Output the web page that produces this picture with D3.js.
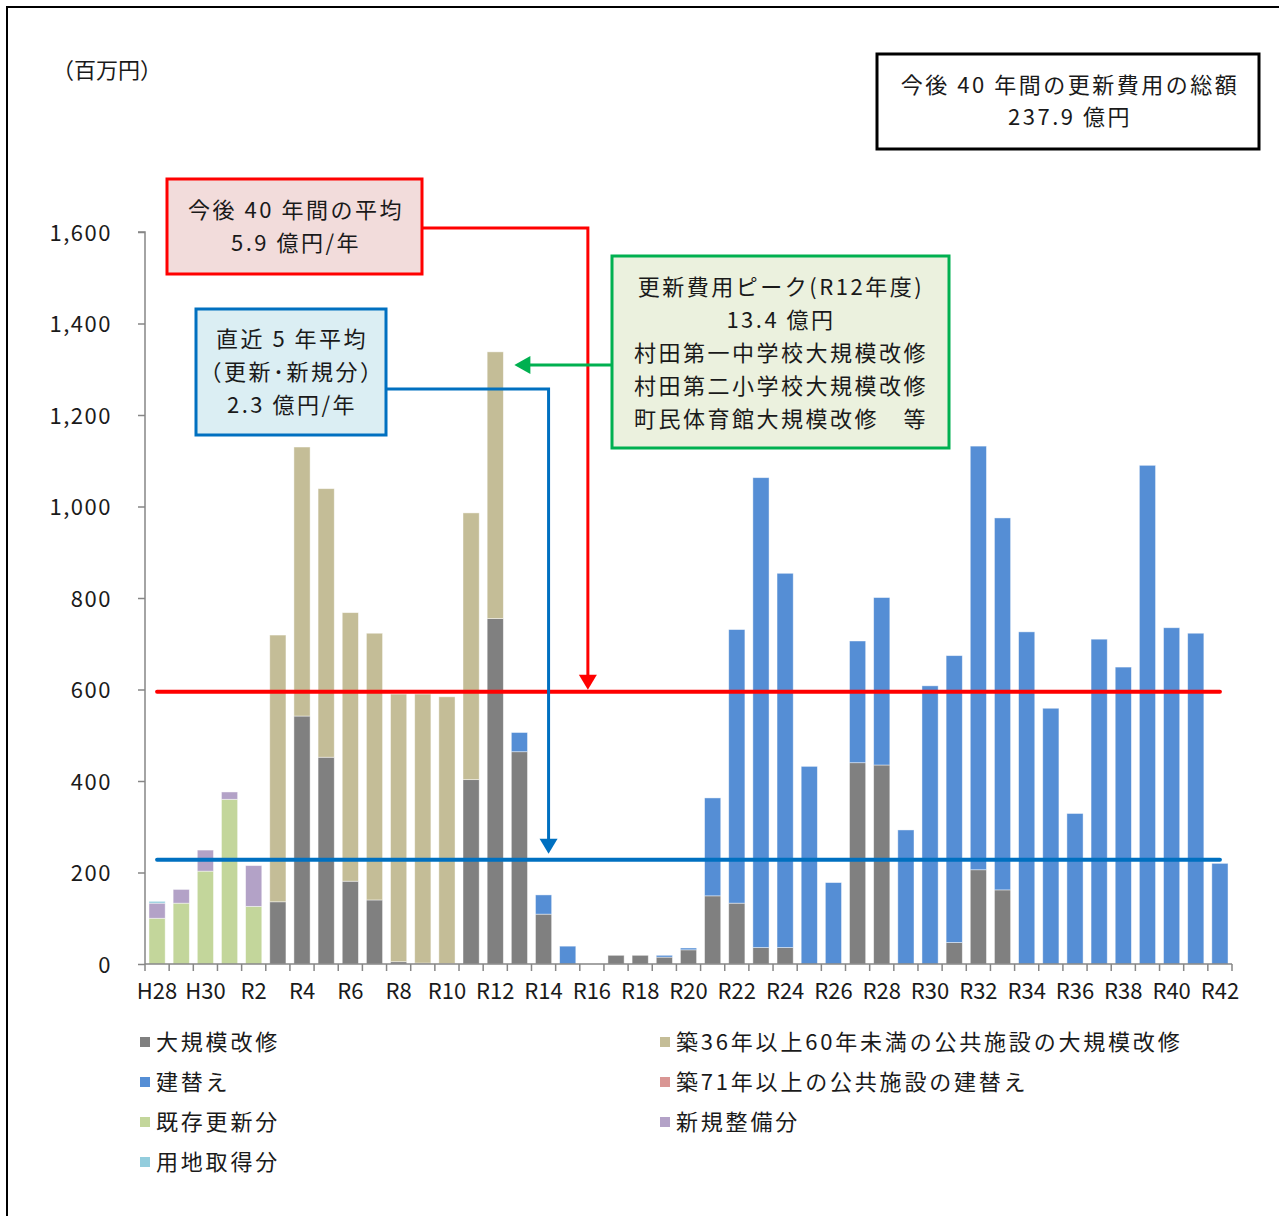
<!DOCTYPE html>
<html><head><meta charset="utf-8">
<script src="https://cdn.jsdelivr.net/npm/d3@7"></script>
<style>
body{margin:0;background:#fff}
svg{display:block}
text{font-family:"Noto Sans CJK JP","Noto Sans",sans-serif;fill:#1a1a1a}
</style>
</head><body>
<svg id="c" width="1279" height="1216"></svg>
<script>
// ---- data (百万円) ----
const categories = ["H28","H29","H30","R1","R2","R3","R4","R5","R6","R7","R8","R9","R10","R11","R12","R13","R14","R15","R16","R17","R18","R19","R20","R21","R22","R23","R24","R25","R26","R27","R28","R29","R30","R31","R32","R33","R34","R35","R36","R37","R38","R39","R40","R41","R42"];
const seriesNames = ["大規模改修","築36年以上60年未満の公共施設の大規模改修","建替え","築71年以上の公共施設の建替え","既存更新分","新規整備分","用地取得分"];
const seriesColors = ["#808080","#C4BD97","#558ED5","#D99694","#C3D69B","#B3A2C7","#93CDDD"];
const daikibo   = [0,0,0,0,0,136,542,452,181,140,5,2,1,403,755,464,109,0,0,19,19,15,31,149,133,36,36,0,0,440,435,0,0,47,206,162,0,0,0,0,0,0,0,0,0];
const chiku36   = [0,0,0,0,0,583,588,587,587,583,585,588,583,583,583,0,0,0,0,0,0,0,0,0,0,0,0,0,0,0,0,0,0,0,0,0,0,0,0,0,0,0,0,0,0];
const tatekae   = [0,0,0,0,0,0,0,0,0,0,0,0,0,0,0,42,42,39,0,0,0,4,4,214,598,1027,818,432,178,266,366,293,608,627,926,813,726,559,329,710,649,1090,735,723,220];
const chiku71   = [0,0,0,0,0,0,0,0,0,0,0,0,0,0,0,0,0,0,0,0,0,0,0,0,0,0,0,0,0,0,0,0,0,0,0,0,0,0,0,0,0,0,0,0,0];
const kizon     = [100,133,203,360,126,0,0,0,0,0,0,0,0,0,0,0,0,0,0,0,0,0,0,0,0,0,0,0,0,0,0,0,0,0,0,0,0,0,0,0,0,0,0,0,0];
const shinki    = [33,30,46,16,89,0,0,0,0,0,0,0,0,0,0,0,0,0,0,0,0,0,0,0,0,0,0,0,0,0,0,0,0,0,0,0,0,0,0,0,0,0,0,0,0];
const youchi    = [4,0,0,0,0,0,0,0,0,0,0,0,0,0,0,0,0,0,0,0,0,0,0,0,0,0,0,0,0,0,0,0,0,0,0,0,0,0,0,0,0,0,0,0,0];
const yTicks = [0,200,400,600,800,1000,1200,1400,1600];
const xLabels = ["H28","H30","R2","R4","R6","R8","R10","R12","R14","R16","R18","R20","R22","R24","R26","R28","R30","R32","R34","R36","R38","R40","R42"];

const seriesData = [daikibo,chiku36,tatekae,chiku71,kizon,shinki,youchi];
const rows = categories.map((c,i)=>{const o={cat:c}; seriesNames.forEach((n,k)=>o[n]=seriesData[k][i]); return o;});
const totals = rows.map((r,i)=>d3.sum(seriesData,s=>s[i]));
const recentAvg = d3.mean(totals.slice(0,5));   // 直近5年平均
const futureAvg = d3.mean(totals.slice(5));     // 今後40年平均

const svg = d3.select("#c");
// outer frame
svg.append("rect").attr("x",7).attr("y",7).attr("width",1300).attr("height",1240)
  .attr("fill","none").attr("stroke","#000").attr("stroke-width",2);

const x = d3.scaleBand().domain(categories).range([145,1232]).paddingInner(0.33).paddingOuter(0.165);
const y = d3.scaleLinear().domain([0,1600]).range([964,232]);
const xc = c => x(c)+x.bandwidth()/2;
const TY = -2; // vertical text nudge

// bars
const stack = d3.stack().keys(seriesNames)(rows);
const g = svg.append("g");
stack.forEach((layer,k)=>{
  g.append("g").attr("fill",seriesColors[k]).selectAll("rect")
    .data(layer.filter(d=>d[1]-d[0]>0)).join("rect")
    .attr("x",d=>x(d.data.cat)).attr("width",x.bandwidth())
    .attr("y",d=>y(d[1])).attr("height",d=>y(d[0])-y(d[1]))
    .attr("stroke","rgba(255,255,255,0.55)").attr("stroke-width",0.8);
});

// y axis
const axisColor="#868686";
const ya = svg.append("g").attr("transform","translate(145,0)")
  .call(d3.axisLeft(y).tickValues(yTicks).tickSize(7).tickPadding(26).tickFormat(d3.format(",")));
ya.select(".domain").attr("stroke",axisColor).attr("stroke-width",1.5).attr("d","M-7,"+y(1600)+"H0V"+y(0));
ya.selectAll(".tick line").attr("stroke",axisColor).attr("stroke-width",1.5);
ya.selectAll(".tick text").attr("font-size",22).attr("letter-spacing",1.5).attr("fill","#1a1a1a")
  .attr("font-family",'"Noto Sans CJK JP",sans-serif').attr("dy",null).attr("y",TY).attr("dominant-baseline","central");

// x axis
const xa = svg.append("g");
const r = x.range();
xa.append("line").attr("x1",r[0]).attr("x2",r[1]).attr("y1",y(0)).attr("y2",y(0))
  .attr("stroke",axisColor).attr("stroke-width",1.5);
const bounds = categories.map(c=>x(c)-(x.step()-x.bandwidth())/2).concat([r[1]]);
xa.selectAll("line.t").data(bounds).join("line").attr("class","t")
  .attr("x1",d=>d).attr("x2",d=>d).attr("y1",y(0)).attr("y2",y(0)+7)
  .attr("stroke",axisColor).attr("stroke-width",1.5);
xa.selectAll("text").data(xLabels).join("text")
  .attr("x",d=>xc(d)).attr("y",y(0)+25).attr("text-anchor","middle")
  .attr("dominant-baseline","central").attr("font-size",22).text(d=>d);

// unit label
svg.append("text").attr("x",52).attr("y",70+TY).attr("dominant-baseline","central")
  .attr("font-size",22).text("（百万円）");

// average lines
const x0 = xc(categories[0]), x1 = xc(categories[categories.length-1]);
svg.append("line").attr("x1",x0).attr("x2",x1).attr("y1",y(futureAvg)).attr("y2",y(futureAvg))
  .attr("stroke","#FF0000").attr("stroke-width",4).attr("stroke-linecap","round");
svg.append("line").attr("x1",x0).attr("x2",x1).attr("y1",y(recentAvg)).attr("y2",y(recentAvg))
  .attr("stroke","#0070C0").attr("stroke-width",4).attr("stroke-linecap","round");

// annotation boxes
function box(bx,by,bw,bh,fill,stroke,lines,cx,cys){
  svg.append("rect").attr("x",bx).attr("y",by).attr("width",bw).attr("height",bh)
    .attr("fill",fill).attr("stroke",stroke).attr("stroke-width",3);
  lines.forEach((t,i)=>svg.append("text").attr("x",cx).attr("y",cys[i]+TY)
    .attr("text-anchor","middle").attr("dominant-baseline","central")
    .attr("font-size",22).attr("letter-spacing",2.5).text(t));
}
// red connector
const redX = xc("R16")-4;
svg.append("path").attr("d",`M423,228H${redX}V${y(futureAvg)-14}`).attr("fill","none")
  .attr("stroke","#FF0000").attr("stroke-width",3);
svg.append("path").attr("d",`M${redX-9},${y(futureAvg)-17}H${redX+9}L${redX},${y(futureAvg)-2}Z`).attr("fill","#FF0000");
// blue connector
const blueX = xc("R14")+5;
svg.append("path").attr("d",`M387,389H${blueX}V${y(recentAvg)-18}`).attr("fill","none")
  .attr("stroke","#0070C0").attr("stroke-width",3);
svg.append("path").attr("d",`M${blueX-9},${y(recentAvg)-21}H${blueX+9}L${blueX},${y(recentAvg)-6}Z`).attr("fill","#0070C0");
// green arrow
const gY = 365, gTip = x("R12")+x.bandwidth()+11;
svg.append("path").attr("d",`M612,${gY}H${gTip+14}`).attr("stroke","#00B050").attr("stroke-width",3);
svg.append("path").attr("d",`M${gTip},${gY}L${gTip+16},${gY-9}V${gY+9}Z`).attr("fill","#00B050");

box(167,179,255,95,"#F2DCDB","#FF0000",["今後 40 年間の平均","5.9 億円/年"],296,[210,243]);
box(196,309,190,126,"#DBEEF3","#0070C0",["直近 5 年平均","（更新･新規分）","2.3 億円/年"],292,[339,372,405]);
box(612,256,337,192,"#EBF1DE","#00B050",["更新費用ピーク(R12年度)","13.4 億円","村田第一中学校大規模改修","村田第二小学校大規模改修","町民体育館大規模改修　等"],781,[287,320,353,386,419]);
box(877,54,382,95,"#FFFFFF","#000000",["今後 40 年間の更新費用の総額","237.9 億円"],1070,[85,117]);

// legend
const lg = svg.append("g");
seriesNames.forEach((n,i)=>{
  const col = i%2, row = Math.floor(i/2);
  const lx = col===0?140:660, ly = 1042+row*40;
  lg.append("rect").attr("x",lx).attr("y",ly-5).attr("width",10).attr("height",10).attr("fill",seriesColors[i]);
  lg.append("text").attr("x",lx+16).attr("y",ly+TY).attr("dominant-baseline","central")
    .attr("font-size",22).attr("letter-spacing",2.8).text(n);
});
</script>
</body></html>
